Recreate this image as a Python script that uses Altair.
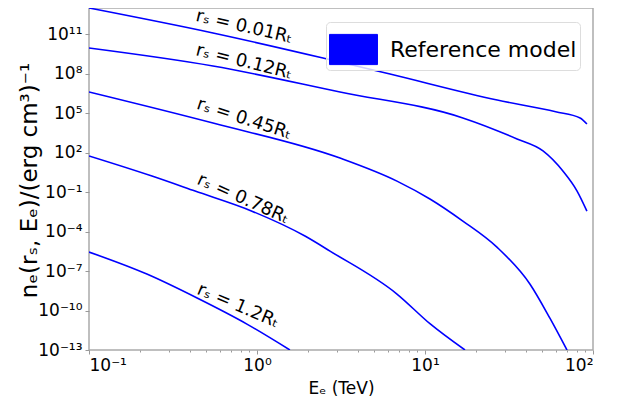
import altair as alt
import pandas as pd

# ---- data (E in TeV, n_e in (erg cm^3)^-1) ----
E_001 = [0.1, 0.547, 2.47, 6.19, 26.9, 60.0, 83.8, 92.0]
N_001 = [1.0e13, 1.26e11, 1.58e9, 9.5e7, 1.0e6, 1.3e5, 4.4e4, 1.5e4]

E_012 = [0.1, 0.547, 3.12, 16.8, 35.3, 50.4, 66.2, 80.4, 92.0]
N_012 = [9.1e9, 3.9e8, 4.1e6, 4.4e4, 1.1e3, 135.0, 4.0, 0.12, 3.6e-3]

E_045 = [0.1, 0.547, 3.12, 6.81, 10.7, 16.8, 26.9, 42.2, 55.5, 70.0]
N_045 = [4.1e6, 1.78e4, 38.9, 0.69, 0.030, 6.3e-4, 6.3e-6, 1.0e-8, 2.5e-11, 1.0e-13]

E_078 = [0.1, 0.237, 0.428, 0.933, 1.93, 2.72, 6.81, 10.7, 17.3]
N_078 = [56.0, 1.66, 0.12, 3.6e-3, 4.6e-5, 3.3e-6, 1.8e-9, 1.0e-11, 1.0e-13]

E_12 = [0.1, 0.221, 0.44, 0.871, 1.57]
N_12 = [2.8e-6, 5.9e-8, 8.9e-10, 9.3e-12, 1.0e-13]

CURVES = ["0.01", "0.12", "0.45", "0.78", "1.2"]
CURVE_E = [E_001, E_012, E_045, E_078, E_12]
CURVE_N = [N_001, N_012, N_045, N_078, N_12]

LABEL_TEXT = ["rₛ = 0.01Rₜ", "rₛ = 0.12Rₜ", "rₛ = 0.45Rₜ", "rₛ = 0.78Rₜ", "rₛ = 1.2Rₜ"]
LABEL_E = [0.838, 0.838, 0.838, 0.826, 0.77]
LABEL_N = [3.6e11, 7.8e8, 3.6e4, 0.030, 2.2e-10]
LABEL_ANGLE = [13, 14, 18, 24, 23]

X_TICKS = [0.1, 1, 10, 100]
X_TICK_LABELS = ["10⁻¹", "10⁰", "10¹", "10²"]
X_MINOR = [0.2, 0.3, 0.4, 0.5, 0.6, 0.7, 0.8, 0.9,
           2, 3, 4, 5, 6, 7, 8, 9,
           20, 30, 40, 50, 60, 70, 80, 90]
Y_EXP = [-13, -10, -7, -4, -1, 2, 5, 8, 11]
Y_TICK_LABELS = ["10⁻¹³", "10⁻¹⁰", "10⁻⁷", "10⁻⁴", "10⁻¹", "10²", "10⁵", "10⁸", "10¹¹"]
Y_TICKS = [10.0 ** e for e in Y_EXP]

LEGEND_LABEL = "Reference model"
FONT = "DejaVu Sans"

rows = []
for name, es, ns in zip(CURVES, CURVE_E, CURVE_N):
    for i, (e, n) in enumerate(zip(es, ns)):
        rows.append({"curve": name, "E": e, "n": n, "order": i, "model": LEGEND_LABEL})
lines_df = pd.DataFrame(rows)

labels_df = pd.DataFrame({"E": LABEL_E, "n": LABEL_N, "text": LABEL_TEXT, "ang": LABEL_ANGLE})


def label_expr(exps, texts):
    expr = "''"
    for e, t in reversed(list(zip(exps, texts))):
        expr = f"round(log(datum.value)/LN10) == {e} ? '{t}' : ({expr})"
    return expr


x_scale = alt.Scale(type="log", domain=[0.1, 100])
y_scale = alt.Scale(type="log", domain=[1e-13, 1e13])

y_axis = alt.Axis(
    values=Y_TICKS, labelExpr=label_expr(Y_EXP, Y_TICK_LABELS),
    title="nₑ(rₛ, Eₑ)/(erg cm³)⁻¹", titleFont=FONT, titleFontSize=23,
    titleFontWeight="normal", titleColor="black", titleX=-60, titleY=172,
    titleAngle=-90, titleAlign="center", titleBaseline="middle",
    labelFont=FONT, labelFontSize=17, labelColor="black", labelPadding=3,
    tickSize=4, tickColor="#999999", domain=False, grid=False)

lines = alt.Chart(lines_df).mark_line(strokeWidth=1.6, clip=True, interpolate="monotone").encode(
    x=alt.X("E:Q", scale=x_scale, axis=alt.Axis(
        values=X_TICKS, labelExpr=label_expr([-1, 0, 1, 2], X_TICK_LABELS),
        title="Eₑ (TeV)", titleFont=FONT, titleFontSize=17, titleFontWeight="normal",
        titleColor="black", titleY=38, titleBaseline="middle",
        labelFont=FONT, labelFontSize=17, labelColor="black", labelPadding=3,
        tickSize=4, tickColor="#999999", domain=False, grid=False, orient="bottom")),
    y=alt.Y("n:Q", scale=y_scale, axis=y_axis),
    color=alt.Color("model:N", scale=alt.Scale(range=["#0000ff"]), legend=alt.Legend(
        title=None, orient="none", legendX=237, legendY=14,
        symbolType="M-1,-0.63H1V0.63H-1Z", symbolSize=2300,
        symbolFillColor="#0000ff", symbolStrokeColor="#0000ff", symbolStrokeWidth=1,
        symbolOpacity=1, labelFont=FONT, labelFontSize=22, labelColor="black",
        labelLimit=400, labelOffset=12, fillColor="rgba(255,255,255,0.8)",
        strokeColor="#dddddd", cornerRadius=4, padding=3)),
    detail="curve:N",
    order="order:Q",
)

texts = alt.Chart(labels_df).mark_text(
    font=FONT, fontSize=18, color="black", align="center", baseline="middle"
).encode(
    x=alt.X("E:Q", scale=x_scale, axis=alt.Axis(
        values=X_MINOR, labels=False, domain=False, grid=False, tickSize=2,
        tickColor="#999999", title=None, orient="bottom")),
    y=alt.Y("n:Q", scale=y_scale, axis=y_axis),
    text="text:N",
    angle=alt.Angle("ang:Q", scale=None),
)

chart = alt.layer(lines, texts).resolve_axis(x="independent").properties(
    width=504, height=342,
    autosize=alt.AutoSizeParams(type="none"),
    padding={"left": 81, "top": 0, "right": 21, "bottom": 46},
).configure_view(stroke="#aaaaaa", strokeWidth=1.5)

chart.save("out.html", embed_options={"renderer": "svg", "actions": False})
